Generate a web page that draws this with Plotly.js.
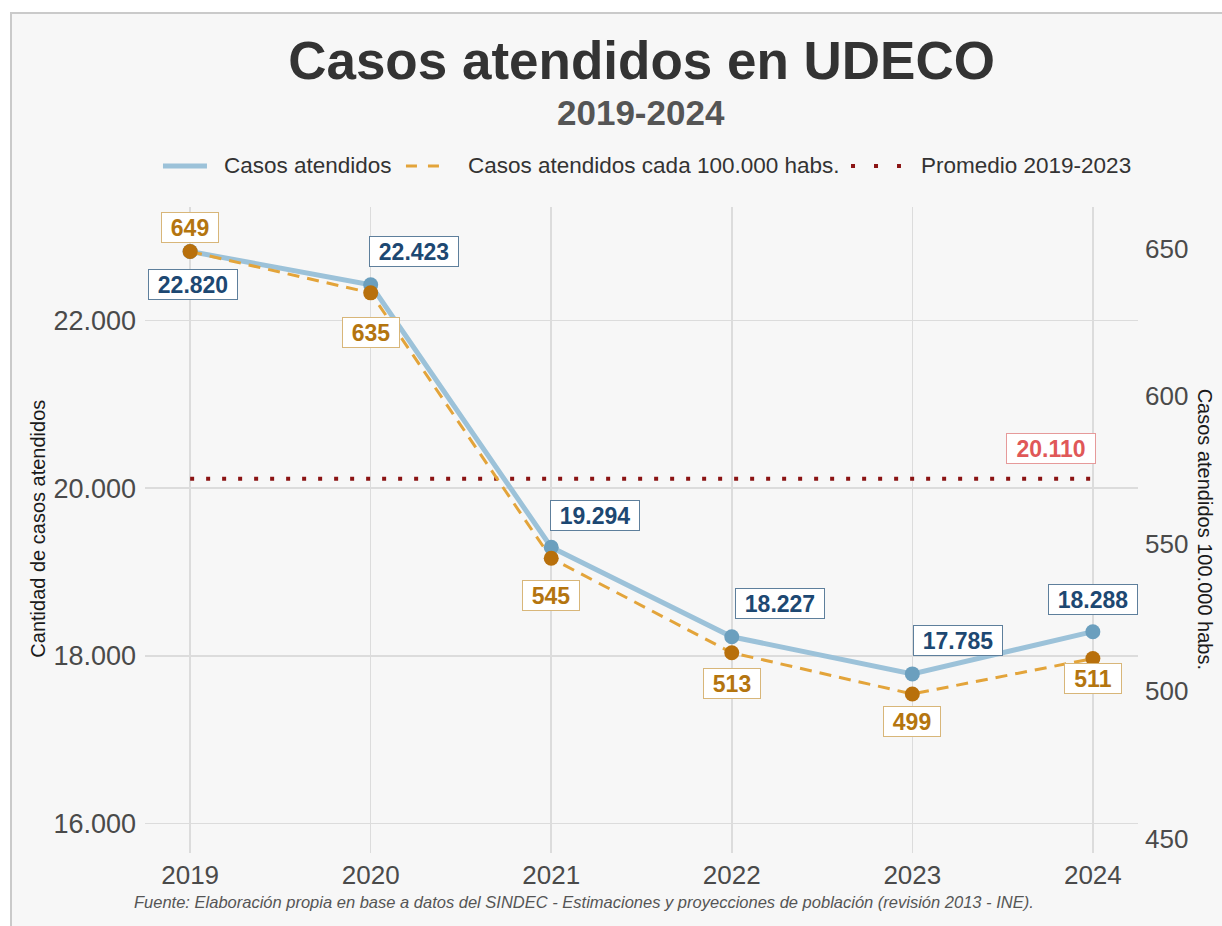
<!DOCTYPE html>
<html>
<head>
<meta charset="utf-8">
<script src="https://cdn.plot.ly/plotly-3.0.1.min.js"></script>
<style>
  html, body { margin: 0; padding: 0; background: #ffffff; }
  #plot { position: absolute; left: 0; top: 0; width: 1222px; height: 926px; }
  .ov { position: absolute; pointer-events: none; }
</style>
</head>
<body>
<div id="plot"></div>
<div class="ov" style="left:0;top:0;width:1222px;height:12px;background:#ffffff;"></div>
<div class="ov" style="left:0;top:0;width:10px;height:926px;background:#ffffff;"></div>
<div class="ov" style="left:10px;top:12px;width:1212px;height:2px;background:#cacaca;"></div>
<div class="ov" style="left:10px;top:12px;width:2px;height:914px;background:#cacaca;"></div>
<script>
// ---- data ----
const years = [2019, 2020, 2021, 2022, 2023, 2024];
const casos = [22820, 22423, 19294, 18227, 17785, 18288];
const casosPor100k = [649, 635, 545, 513, 499, 511];
const promedio = 20110;
const leftTicks = [16000, 18000, 20000, 22000];
const rightTicks = [450, 500, 550, 600, 650];
const seriesNames = ['Casos atendidos', 'Casos atendidos cada 100.000 habs.', 'Promedio 2019-2023'];

// ---- label placement (pixel offsets from each point) ----
const blueShiftX = [3, 43, 44, 48, 46, 0];
const blueShiftY = [-33, 33, 32, 33, 33, 32];
const orangeShiftX = [0, 0, 0, 0, 0, 0];
const orangeShiftY = [24, -40, -37, -31, -27, -20];

const FONT = 'Liberation Sans, Arial, Helvetica, sans-serif';
const C_BLUE_LINE = '#9cc2d9', C_BLUE_MK = '#6b9fbe';
const C_OR_LINE = '#e3a43a', C_OR_MK = '#b8700c';
const C_RED = '#8b1414';

function fmt(n) {
  return String(Math.round(n)).replace(/\B(?=(\d{3})+(?!\d))/g, '.');
}
function boxW(s) { // approximate text width for 23px bold digits
  let w = 0;
  for (const c of s) w += (c === '.') ? 0.278 : 0.556;
  return Math.round(w * 23 + 16);
}

const traces = [
  {
    x: [years[0], years[years.length - 1]], y: [promedio, promedio],
    mode: 'lines', name: seriesNames[2],
    line: { color: C_RED, width: 4, dash: '4px,12px' }
  },
  {
    x: years, y: casos, mode: 'lines', name: seriesNames[0],
    line: { color: C_BLUE_LINE, width: 5 }
  },
  {
    x: years, y: casos, mode: 'markers', name: seriesNames[0],
    marker: { size: 15, color: C_BLUE_MK }
  },
  {
    x: years, y: casosPor100k, yaxis: 'y2', mode: 'lines', name: seriesNames[1],
    line: { color: C_OR_LINE, width: 3, dash: '12px,8px' }
  },
  {
    x: years, y: casosPor100k, yaxis: 'y2', mode: 'markers', name: seriesNames[1],
    marker: { size: 15, color: C_OR_MK }
  }
];

const annotations = [];
years.forEach((yr, i) => {
  const tb = fmt(casos[i]);
  annotations.push({
    x: yr, y: casos[i], xref: 'x', yref: 'y', text: '<b>' + tb + '</b>',
    showarrow: false, xshift: blueShiftX[i], yshift: blueShiftY[i],
    xanchor: 'center', yanchor: 'middle',
    width: boxW(tb), height: 27, borderpad: 1,
    bgcolor: '#ffffff', bordercolor: '#5e7f9c', borderwidth: 1,
    font: { family: FONT, size: 23, color: '#1d4872' }
  });
  const to = fmt(casosPor100k[i]);
  annotations.push({
    x: yr, y: casosPor100k[i], xref: 'x', yref: 'y2', text: '<b>' + to + '</b>',
    showarrow: false, xshift: orangeShiftX[i], yshift: orangeShiftY[i],
    xanchor: 'center', yanchor: 'middle',
    width: boxW(to), height: 27, borderpad: 1,
    bgcolor: '#ffffff', bordercolor: '#d8b679', borderwidth: 1,
    font: { family: FONT, size: 23, color: '#b4750f' }
  });
});
const tp = fmt(promedio);
annotations.push({
  x: years[years.length - 1], y: promedio, xref: 'x', yref: 'y', text: '<b>' + tp + '</b>',
  showarrow: false, xshift: -42, yshift: 30, xanchor: 'center', yanchor: 'middle',
  width: boxW(tp), height: 27, borderpad: 1,
  bgcolor: '#ffffff', bordercolor: '#e69a9a', borderwidth: 1,
  font: { family: FONT, size: 23, color: '#e05858' }
});
// subtitle
annotations.push({
  text: '<b>2019-2024</b>', xref: 'paper', yref: 'paper', x: 0.499, y: 1.147,
  xanchor: 'center', yanchor: 'middle', showarrow: false,
  font: { family: FONT, size: 35, color: '#555555' }
});
// axis titles
annotations.push({
  text: 'Cantidad de casos atendidos', xref: 'paper', yref: 'paper',
  x: -0.1078, y: 0.502, textangle: -90, xanchor: 'center', yanchor: 'middle',
  showarrow: false, font: { family: FONT, size: 20, color: '#1a1a1a' }
});
annotations.push({
  text: 'Casos atendidos 100.000 habs.', xref: 'paper', yref: 'paper',
  x: 1.0675, y: 0.502, textangle: 90, xanchor: 'center', yanchor: 'middle',
  showarrow: false, font: { family: FONT, size: 20, color: '#1a1a1a' }
});
// source
annotations.push({
  text: '<i>Fuente: Elaboración propia en base a datos del SINDEC - Estimaciones y proyecciones de población (revisión 2013 - INE).</i>',
  xref: 'paper', yref: 'paper', x: 0.442, y: -0.0759, xanchor: 'center', yanchor: 'middle',
  showarrow: false, font: { family: FONT, size: 16.5, color: '#555555' }
});

// ---- legend (drawn as keys + text) ----
const LEG_Y = 1.0635;
const legendKeys = [
  { x0: 0.0181, x1: 0.0624, color: C_BLUE_LINE, width: 5, dash: 'solid', tx: 0.0775 },
  { x0: 0.2628, x1: 0.2971, color: C_OR_LINE, width: 3, dash: '11px,11px', tx: 0.3233 },
  { x0: 0.7110, x1: 0.7613, color: C_RED, width: 4, dash: '4px,19px', tx: 0.7795 }
];
const shapes = legendKeys.map(k => ({
  type: 'line', xref: 'paper', yref: 'paper', x0: k.x0, x1: k.x1, y0: LEG_Y, y1: LEG_Y,
  line: { color: k.color, width: k.width, dash: k.dash }
}));
legendKeys.forEach((k, i) => {
  annotations.push({
    text: seriesNames[i], xref: 'paper', yref: 'paper', x: k.tx, y: LEG_Y,
    xanchor: 'left', yanchor: 'middle', showarrow: false,
    font: { family: FONT, size: 22.5, color: '#333333' }
  });
});

const tickFont = { family: FONT, size: 26, color: '#4a4a4a' };

const layout = {
  width: 1222, height: 926,
  margin: { l: 145, r: 84, t: 207, b: 73 },
  paper_bgcolor: '#f7f7f7', plot_bgcolor: '#f7f7f7',
  separators: ',.',
  font: { family: FONT },
  title: {
    text: '<b>Casos atendidos en UDECO</b>',
    font: { family: FONT, size: 53, color: '#333333' },
    x: 0.525, xanchor: 'center', xref: 'container',
    y: 1 - 60 / 926, yanchor: 'middle', yref: 'container'
  },
  showlegend: false,
  xaxis: {
    range: [2018.75, 2024.25], tickvals: years, ticktext: years.map(String),
    showgrid: true, gridcolor: '#dcdcdc', gridwidth: 1.5,
    zeroline: false, showline: false, ticks: '',
    tickfont: tickFont, ticklabelstandoff: 4
  },
  yaxis: {
    range: [15650, 23350], tickvals: leftTicks, ticktext: leftTicks.map(fmt),
    showgrid: true, gridcolor: '#dcdcdc', gridwidth: 1.5,
    zeroline: false, showline: false, ticks: '',
    tickfont: { family: FONT, size: 27, color: '#4a4a4a' }, ticklabelstandoff: 8
  },
  yaxis2: {
    overlaying: 'y', side: 'right',
    range: [445.1, 664.1], tickvals: rightTicks, ticktext: rightTicks.map(String),
    showgrid: false, zeroline: false, showline: false, ticks: '',
    tickfont: tickFont, ticklabelstandoff: 6
  },
  shapes: shapes,
  annotations: annotations
};

Plotly.newPlot('plot', traces, layout, { staticPlot: true, displayModeBar: false });
</script>
</body>
</html>
